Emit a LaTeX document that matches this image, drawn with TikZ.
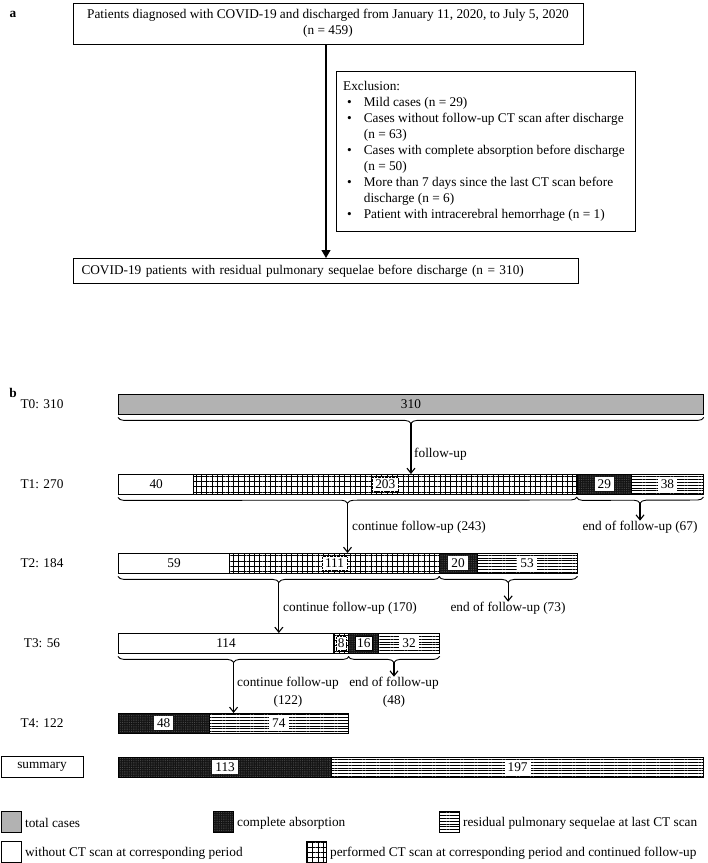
\documentclass[tikz,border=0pt]{standalone}
\usepackage{fontspec}
\setmainfont{Liberation Serif}
\usetikzlibrary{patterns.meta,decorations.pathreplacing,arrows.meta,calc}
\newcommand\segnode[5]{\node[#5, minimum width={1.8871*(#3-#2)*1pt}] (#1) at ({118+1.8871*#2}, #4) {};}
\begin{document}
\begin{tikzpicture}[x=1pt,y=-1pt,font=\fontsize{13.3}{16}\selectfont]
\tikzset{
 box/.style={draw, line width=1pt, inner sep=0pt},
 seg/.style={draw, line width=0.9pt, inner sep=0pt, minimum height=20pt, anchor=north west},
 whiteseg/.style={seg, fill=white},
 gridseg/.style={seg, pattern={Hatch[distance=5.3pt, angle=0, line width=0.5pt]}},
 blackfill/.style={preaction={fill=black!92}, pattern={Dots[distance=1.8pt, radius=0.35pt]}, pattern color=black!55},
 blackseg/.style={seg, blackfill},
 hseg/.style={seg, pattern={Lines[distance=2.8pt, angle=0, line width=0.5pt]}},
 grayseg/.style={seg, fill=black!30},
 num/.style={fill=white, inner xsep=3pt, inner ysep=0pt, minimum height=14pt},
 numg/.style={num, draw=black, densely dotted, line width=0.4pt},
 bracedeco/.style={decorate, decoration={brace, mirror, amplitude=6pt}, line width=0.9pt},
 arr/.style={-{Straight Barb[length=5pt,width=8pt]}, line width=1.1pt},
 arra/.style={-{Triangle[length=8pt,width=9pt]}, line width=1.1pt},
 twoline/.style={align=center, font=\fontsize{13.3}{18}\selectfont, inner sep=0pt},
 leg/.style={draw, line width=0.9pt, minimum width=20pt, minimum height=21pt, anchor=north west, inner sep=0pt},
}
\useasboundingbox (0,0) rectangle (708,863);

% ---------------- part a ----------------
\node[font=\fontsize{13.3}{16}\selectfont\bfseries] (la) at (13,14) {a};
\node[box, minimum width=510pt, minimum height=41pt, align=center] (top) at (328,23.5)
 {Patients diagnosed with COVID-19 and discharged from January 11, 2020, to July 5, 2020\\(n = 459)};
\node[box, minimum width=299pt, minimum height=160pt, anchor=north west] (excl) at (336,71) {};
\node[anchor=north west, inner sep=0pt] (excltxt) at (343,78.8) {%
\begin{tabular}{@{}l@{\hspace{12pt}}l@{}}
\multicolumn{2}{@{}l@{}}{Exclusion:}\\
\hspace{4pt}\textbullet & Mild cases (n = 29)\\
\hspace{4pt}\textbullet & Cases without follow-up CT scan after discharge\\
 & (n = 63)\\
\hspace{4pt}\textbullet & Cases with complete absorption before discharge\\
 & (n = 50)\\
\hspace{4pt}\textbullet & More than 7 days since the last CT scan before\\
 & discharge (n = 6)\\
\hspace{4pt}\textbullet & Patient with intracerebral hemorrhage (n = 1)
\end{tabular}};
\node[box, anchor=north west, text width=489pt, minimum height=25pt, inner xsep=8pt, align=left] (bot) at (73,258)
 {COVID-19 patients with residual pulmonary sequelae before discharge (n = 310)};
\coordinate (ax) at (326,0);
\draw[arra] (top.south -| ax) -- (bot.north -| ax);

% ---------------- part b ----------------
\node[font=\fontsize{13.3}{16}\selectfont\bfseries] (lb) at (13,393) {b};
\node (r0) at (42,404) {T0: 310};
\node (r1) at (42,484) {T1: 270};
\node (r2) at (42,563) {T2: 184};
\node (r3) at (42,643) {T3: 56};
\node (r4) at (42,723) {T4: 122};
\node[box, minimum width=82pt, minimum height=21pt] (rs) at (42,767) {summary};

% bars
\segnode{t0}{0}{310}{394}{grayseg}
\segnode{t1a}{0}{40}{474}{whiteseg}
\segnode{t1b}{40}{243}{474}{gridseg}
\segnode{t1c}{243}{272}{474}{blackseg}
\segnode{t1d}{272}{310}{474}{hseg}
\segnode{t2a}{0}{59}{553}{whiteseg}
\segnode{t2b}{59}{170}{553}{gridseg}
\segnode{t2c}{170}{190}{553}{blackseg}
\segnode{t2d}{190}{243}{553}{hseg}
\segnode{t3a}{0}{114}{633}{whiteseg}
\segnode{t3b}{114}{122}{633}{gridseg}
\segnode{t3c}{122}{138}{633}{blackseg}
\segnode{t3d}{138}{170}{633}{hseg}
\segnode{t4a}{0}{48}{713}{blackseg}
\segnode{t4b}{48}{122}{713}{hseg}
\segnode{sa}{0}{113}{757}{blackseg}
\segnode{sb}{113}{310}{757}{hseg}

% numbers
\node (n0) at (t0.center) {310};
\node (n1a) at (t1a.center) {40};
\node[numg] (n1b) at (t1b.center) {203};
\node[num] (n1c) at (t1c.center) {29};
\node[num] (n1d) at (t1d.center) {38};
\node (n2a) at (t2a.center) {59};
\node[numg] (n2b) at (t2b.center) {111};
\node[num] (n2c) at (t2c.center) {20};
\node[num] (n2d) at (t2d.center) {53};
\node (n3a) at (t3a.center) {114};
\node[numg, inner xsep=1.5pt] (n3b) at (t3b.center) {8};
\node[num, draw=black, line width=1pt, inner xsep=2pt] (n3c) at (t3c.center) {16};
\node[num] (n3d) at (t3d.center) {32};
\node[num] (n4a) at (t4a.center) {48};
\node[num] (n4b) at (t4b.center) {74};
\node[num] (nsa) at (sa.center) {113};
\node[num] (nsb) at (sb.center) {197};

% braces
\draw[bracedeco] ($(t0.south west)+(0,2.5)$) -- ($(t0.south east)+(0,2.5)$);
\coordinate (b0) at ($(t0.south)+(0,8.5)$);
\draw[bracedeco] ($(t1a.south west)+(0,2.5)$) -- ($(t1b.south east)+(0,2.5)$);
\coordinate (b1a) at ($(t1a.south west)!0.5!(t1b.south east)+(0,8.5)$);
\draw[bracedeco] ($(t1c.south west)+(0,2.5)$) -- ($(t1d.south east)+(0,2.5)$);
\coordinate (b1b) at ($(t1c.south west)!0.5!(t1d.south east)+(0,8.5)$);
\draw[bracedeco] ($(t2a.south west)+(0,2.5)$) -- ($(t2b.south east)+(0,2.5)$);
\coordinate (b2a) at ($(t2a.south west)!0.5!(t2b.south east)+(0,8.5)$);
\draw[bracedeco] ($(t2c.south west)+(0,2.5)$) -- ($(t2d.south east)+(0,2.5)$);
\coordinate (b2b) at ($(t2c.south west)!0.5!(t2d.south east)+(0,8.5)$);
\draw[bracedeco] ($(t3a.south west)+(0,2.5)$) -- ($(t3b.south east)+(0,2.5)$);
\coordinate (b3a) at ($(t3a.south west)!0.5!(t3b.south east)+(0,8.5)$);
\draw[bracedeco] ($(t3c.south west)+(0,2.5)$) -- ($(t3d.south east)+(0,2.5)$);
\coordinate (b3b) at ($(t3c.south west)!0.5!(t3d.south east)+(0,8.5)$);

% continue arrows
\draw[arr] (b0) -- (b0 |- t1a.north);
\node[anchor=west, inner sep=0pt] (l0) at (414,454) {follow-up};
\draw[arr] (b1a) -- (b1a |- t2a.north);
\node[anchor=west, inner sep=0pt] (l1a) at (352,527) {continue follow-up (243)};
\draw[arr] (b2a) -- (b2a |- t3a.north);
\node[anchor=west, inner sep=0pt] (l2a) at (283,608) {continue follow-up (170)};
\draw[arr] (b3a) -- (b3a |- t4a.north);
\node[twoline, anchor=west] (l3a) at (237,692) {continue follow-up\\(122)};

% end arrows
\node[inner sep=0pt] (l1b) at (640,527) {end of follow-up (67)};
\draw[arr] (b1b) -- (b1b |- l1b.north);
\node[inner sep=0pt] (l2b) at (508,608) {end of follow-up (73)};
\draw[arr] (b2b) -- (b2b |- l2b.north);
\node[twoline] (l3b) at (394,692) {end of follow-up\\(48)};
\draw[arr] (b3b) -- (b3b |- l3b.north);

% legend
\node[leg, fill=black!30] (g1) at (1,811) {};
\node[anchor=west, inner sep=0pt] (g1t) at ($(g1.east)+(3,1)$) {total cases};
\node[leg, blackfill] (g2) at (213,811) {};
\node[anchor=west, inner sep=0pt] (g2t) at ($(g2.east)+(3,1)$) {complete absorption};
\node[leg, pattern={Lines[distance=2.8pt, angle=0, line width=0.5pt]}] (g3) at (439,811) {};
\node[anchor=west, inner sep=0pt] (g3t) at ($(g3.east)+(3,1)$) {residual pulmonary sequelae at last CT scan};
\node[leg, fill=white] (g4) at (1,841) {};
\node[anchor=west, inner sep=0pt] (g4t) at ($(g4.east)+(3,1)$) {without CT scan at corresponding period};
\node[leg, pattern={Hatch[distance=5.3pt, angle=0, line width=0.5pt]}] (g5) at (306,841) {};
\node[anchor=west, inner sep=0pt] (g5t) at ($(g5.east)+(3,1)$) {performed CT scan at corresponding period and continued follow-up};
\end{tikzpicture}
\end{document}
